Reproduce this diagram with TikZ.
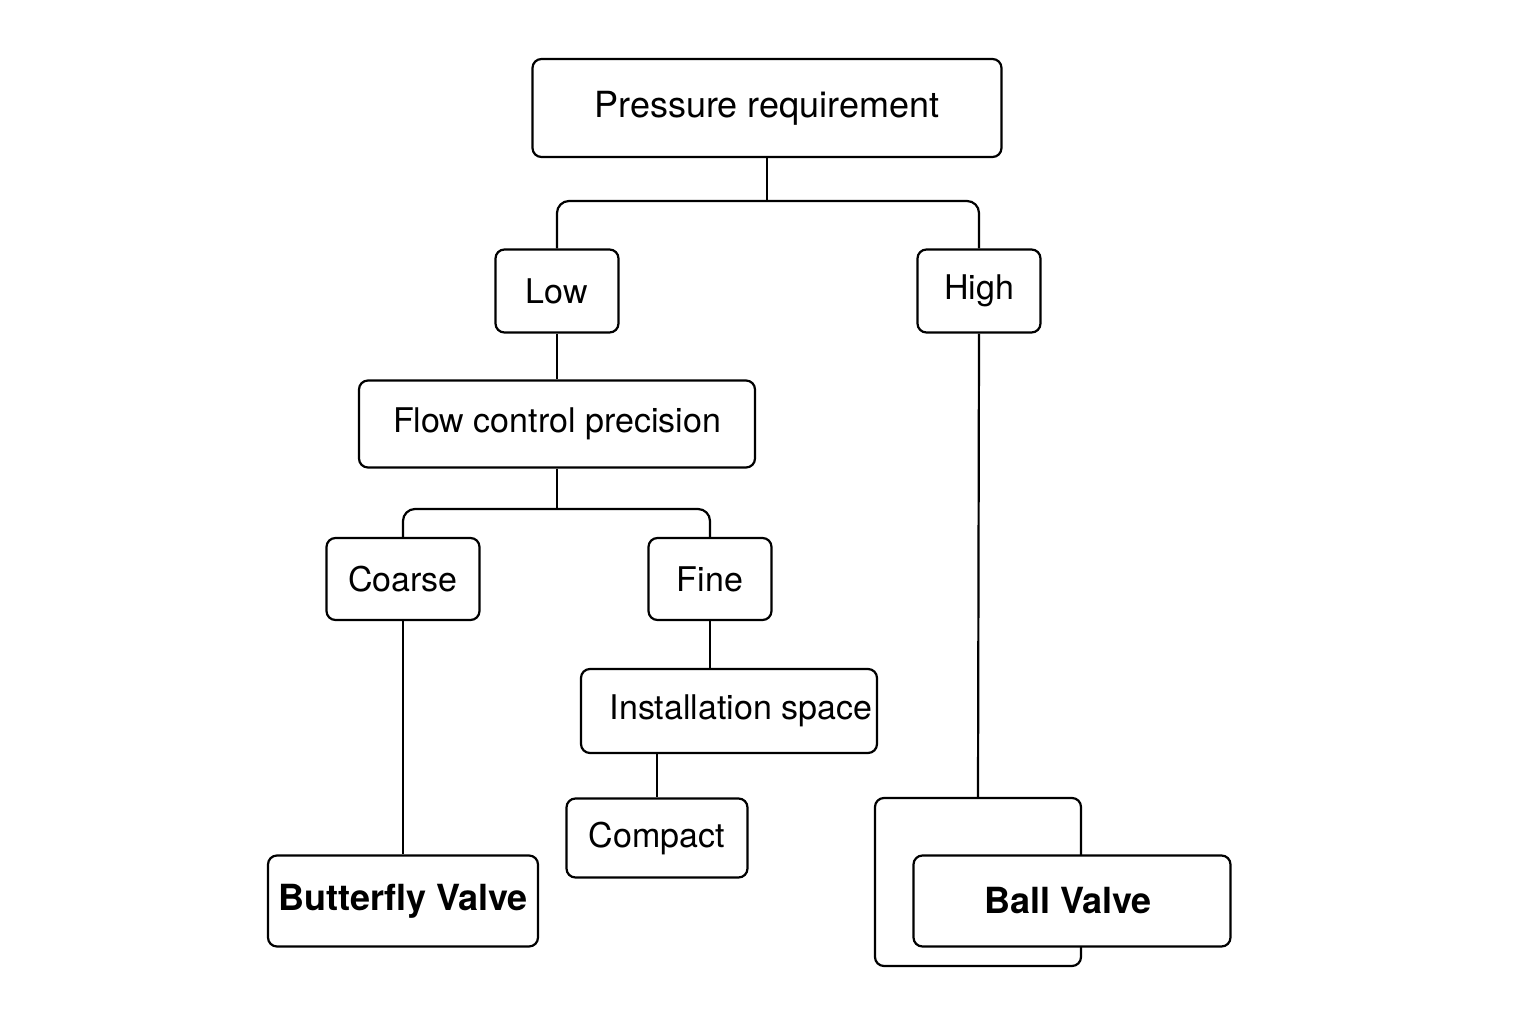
\documentclass[tikz,border=0pt]{standalone}
\usepackage{fontspec}
\setmainfont{TeX Gyre Heros}
\usetikzlibrary{positioning}
\tikzset{
  box/.style={draw, line width=2.2pt, rounded corners=9pt, inner sep=0pt,
    font=\fontsize{34}{40}\selectfont},
  strong/.style={box, font=\fontsize{36}{42}\selectfont\bfseries},
  link/.style={line width=2.2pt, rounded corners=12pt}
}
\begin{document}
\begin{tikzpicture}[x=1pt,y=-1pt]
    \useasboundingbox (0,0) rectangle (1536,1024);
    \node[box, minimum width=469pt, minimum height=98pt, font=\fontsize{36}{42}\selectfont] (press) at (767,108) {Pressure requirement};
    \node[box, minimum width=123pt, minimum height=83pt] (low) at (557,291) {Low};
    \node[box, minimum width=123pt, minimum height=83pt] (high) at (979,291) {High};
    \node[box, minimum width=396pt, minimum height=87pt] (flow) at (557,424) {Flow control precision};
    \node[box, minimum width=153pt, minimum height=82pt] (coarse) at (403,579) {Coarse};
    \node[box, minimum width=123pt, minimum height=82pt] (fine) at (710,579) {Fine};
    \node[box, minimum width=296pt, minimum height=84pt] (space) at (729,711) {\hspace*{24pt}Installation space};
    \node[box, minimum width=181pt, minimum height=79pt] (compact) at (657,838) {Compact};
    \node[strong, minimum width=270pt, minimum height=91pt] (butterfly) at (403,901) {Butterfly Valve};
    \node[box, minimum width=206pt, minimum height=168pt] (ballback) at (978,882) {};
    \node[strong, fill=white, minimum width=317pt, minimum height=91pt] (ball) at (1072,901) {\hspace*{-8pt}Ball Valve};
    % pressure split
    \coordinate (s1) at (767,201);
    \draw[link] (press.south) -- (s1);
    \draw[link] (low.north) |- (s1) -| (high.north);
    \draw[link] (low.south) -- (flow.north);
    % precision split
    \coordinate (s2) at (557,509);
    \draw[link] (flow.south) -- (s2);
    \draw[link] (coarse.north) |- (s2) -| (fine.north);
    \draw[link] (coarse.south) -- (butterfly.north);
    \draw[link] (fine.south) -- (fine.south |- space.north);
    \draw[link] (compact.north |- space.south) -- (compact.north);
    \draw[link] (high.south) -- (ballback.north);
\end{tikzpicture}
\end{document}
